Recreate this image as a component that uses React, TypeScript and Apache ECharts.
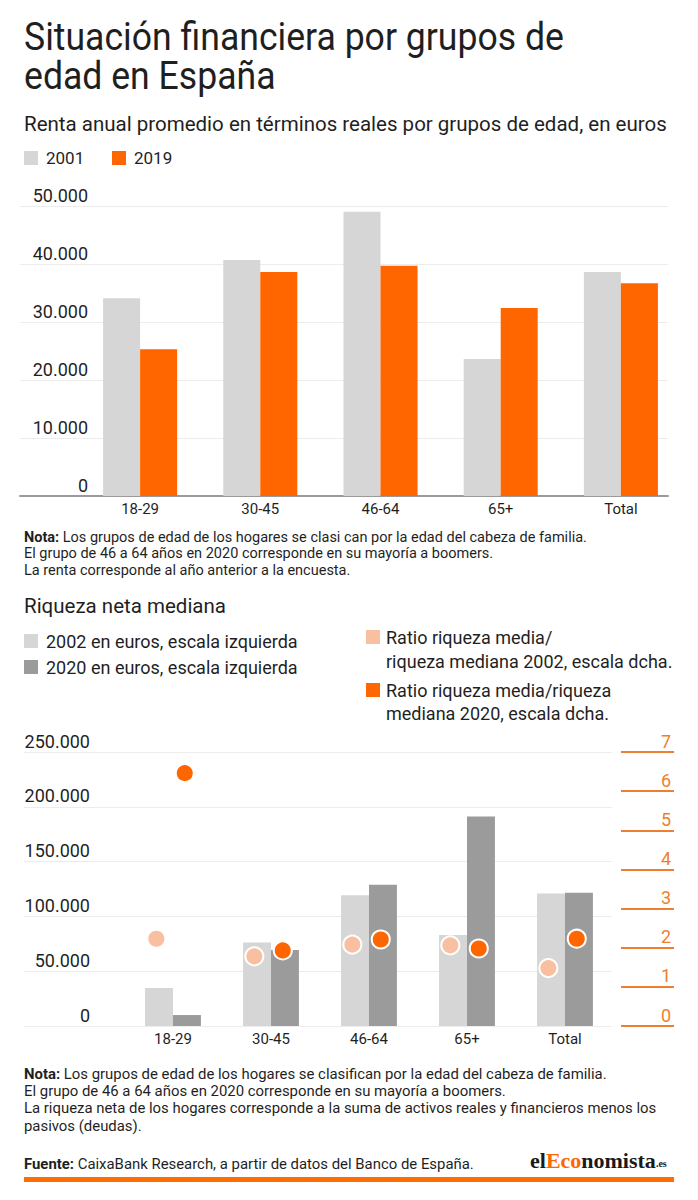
import React, { useEffect, useRef } from "react";
import * as echarts from "echarts";

// Age groups shared by both panels
const ageGroups = ["18-29", "30-45", "46-64", "65+", "Total"];

// Panel 1: average annual income (real terms, euros)
const income2001 = [34100, 40700, 49000, 23600, 38600];
const income2019 = [25300, 38600, 39700, 32400, 36700];

// Panel 2: median net wealth (euros, left scale)
const wealth2002 = [34700, 76100, 119300, 83100, 120900];
const wealth2020 = [10000, 69400, 128800, 191200, 121500];

// Panel 2: mean / median wealth ratio (right scale)
const ratio2002 = [2.23, 1.78, 2.08, 2.06, 1.48];
const ratio2020 = [6.46, 1.93, 2.21, 1.98, 2.23];

const FONT = "Roboto, 'Noto Sans', sans-serif";
const TEXT = "#1f1f1f";
const GRAY_LIGHT = "#d6d6d6";
const GRAY_DARK = "#9b9b9b";
const ORANGE = "#ff6600";
const ORANGE_PALE = "#f9bfa1";
const ORANGE_AXIS = "#ef7f2e";
const GRID_LINE = "#ececec";

const thousands = (v: number) =>
  String(v).replace(/\B(?=(\d{3})+(?!\d))/g, ".");

// Circle marker placed over one of the two bars of a category
const dotRenderer =
  (color: string, shift: number) => (_params: any, api: any) => {
    const p = api.coord([api.value(0), api.value(1)]);
    const band = api.size([1, 0])[0];
    return {
      type: "circle",
      shape: { cx: p[0] + band * shift, cy: p[1], r: 9 },
      style: { fill: color, stroke: "#ffffff", lineWidth: 2 },
      z2: 10,
    };
  };

const txt = (
  x: number,
  y: number,
  text: string,
  fontSize: number,
  extra: Record<string, any> = {},
  scaleX = 1
) => ({
  type: "text",
  x,
  y,
  scaleX,
  style: {
    text,
    fontSize,
    fontFamily: FONT,
    fill: TEXT,
    verticalAlign: "middle",
    ...extra,
  },
});

const square = (x: number, y: number, color: string) => ({
  type: "rect",
  shape: { x, y, width: 14, height: 14 },
  style: { fill: color },
});

const noteRich = (size: number, lh: number) => ({
  b: { fontWeight: "bold", fontSize: size, fontFamily: FONT, fill: TEXT, lineHeight: lh },
  t: { fontSize: size, fontFamily: FONT, fill: TEXT, lineHeight: lh },
});

export default function App() {
  const ref = useRef<HTMLDivElement>(null);

  useEffect(() => {
    if (!ref.current) return;
    const chart = echarts.init(ref.current, undefined, { renderer: "svg" });

    const leftLabel = (margin: number) => ({
      inside: true,
      align: "right",
      verticalAlign: "bottom",
      lineHeight: 22,
      margin,
      fontSize: 18,
      color: TEXT,
      fontFamily: FONT,
      formatter: (v: number) => thousands(v),
    });

    const catLabel = {
      fontSize: 15,
      color: TEXT,
      fontFamily: FONT,
      margin: 5,
    };

    const option: any = {
      animation: false,
      backgroundColor: "#ffffff",
      textStyle: { fontFamily: FONT },
      grid: [
        { left: 20, right: 30, top: 206, height: 290 },
        { left: 80, right: 17, top: 206, height: 290 },
        { left: 24, right: 86, top: 752, height: 274 },
        { left: 124, right: 84, top: 752, height: 274 },
      ],
      xAxis: [
        {
          gridIndex: 0,
          type: "value",
          min: 0,
          max: 1,
          axisLine: { show: true, onZero: false, lineStyle: { color: "#9a9a9a", width: 2 } },
          axisTick: { show: false },
          axisLabel: { show: false },
          splitLine: { show: false },
        },
        {
          gridIndex: 1,
          type: "category",
          data: ageGroups,
          axisLine: { show: false },
          axisTick: { show: false },
          axisLabel: catLabel,
        },
        { gridIndex: 2, type: "value", min: 0, max: 1, show: false },
        {
          gridIndex: 3,
          type: "category",
          data: ageGroups,
          axisLine: { show: false },
          axisTick: { show: false },
          axisLabel: catLabel,
        },
      ],
      yAxis: [
        {
          gridIndex: 0,
          type: "value",
          min: 0,
          max: 50000,
          interval: 10000,
          axisLine: { show: false },
          axisTick: { show: false },
          splitLine: { lineStyle: { color: GRID_LINE, width: 1 } },
          axisLabel: leftLabel(68),
        },
        { gridIndex: 1, type: "value", min: 0, max: 50000, show: false },
        {
          gridIndex: 2,
          type: "value",
          min: 0,
          max: 250000,
          interval: 50000,
          axisLine: { show: false },
          axisTick: { show: false },
          splitLine: { lineStyle: { color: GRID_LINE, width: 1 } },
          axisLabel: leftLabel(66),
        },
        { gridIndex: 3, type: "value", min: 0, max: 250000, show: false },
        {
          gridIndex: 3,
          type: "value",
          position: "right",
          offset: 7,
          min: 0,
          max: 7,
          interval: 1,
          axisLine: { show: false },
          axisTick: { show: true, length: 53, lineStyle: { color: ORANGE_AXIS, width: 2 } },
          splitLine: { show: false },
          axisLabel: {
            align: "right",
            verticalAlign: "bottom",
            lineHeight: 22,
            margin: 50,
            fontSize: 18,
            color: ORANGE_AXIS,
            fontFamily: FONT,
          },
        },
      ],
      series: [
        {
          name: "2001",
          type: "bar",
          xAxisIndex: 1,
          yAxisIndex: 1,
          data: income2001,
          barWidth: "30.8%",
          barGap: "0%",
          itemStyle: { color: GRAY_LIGHT },
        },
        {
          name: "2019",
          type: "bar",
          xAxisIndex: 1,
          yAxisIndex: 1,
          data: income2019,
          barWidth: "30.8%",
          barGap: "0%",
          itemStyle: { color: ORANGE },
        },
        {
          name: "2002 en euros, escala izquierda",
          type: "bar",
          xAxisIndex: 3,
          yAxisIndex: 3,
          data: wealth2002,
          barWidth: "28.5%",
          barGap: "0%",
          itemStyle: { color: GRAY_LIGHT },
        },
        {
          name: "2020 en euros, escala izquierda",
          type: "bar",
          xAxisIndex: 3,
          yAxisIndex: 3,
          data: wealth2020,
          barWidth: "28.5%",
          barGap: "0%",
          itemStyle: { color: GRAY_DARK },
        },
        {
          name: "Ratio riqueza media/riqueza mediana 2002, escala dcha.",
          type: "custom",
          xAxisIndex: 3,
          yAxisIndex: 4,
          z: 5,
          encode: { x: 0, y: 1 },
          data: ratio2002.map((v, i) => [i, v]),
          renderItem: dotRenderer(ORANGE_PALE, -0.17),
        },
        {
          name: "Ratio riqueza media/riqueza mediana 2020, escala dcha.",
          type: "custom",
          xAxisIndex: 3,
          yAxisIndex: 4,
          z: 6,
          encode: { x: 0, y: 1 },
          data: ratio2020.map((v, i) => [i, v]),
          renderItem: dotRenderer(ORANGE, 0.12),
        },
      ],
      graphic: [
        // Title
        txt(24, 37, "Situación financiera por grupos de", 38, {}, 0.937),
        txt(24, 76, "edad en España", 38, {}, 0.937),
        // Panel 1 heading and legend
        txt(24, 124, "Renta anual promedio en términos reales por grupos de edad, en euros", 20.5),
        square(24, 151, GRAY_LIGHT),
        txt(46, 158, "2001", 17),
        square(112, 151, ORANGE),
        txt(134, 158, "2019", 17),
        // Panel 1 notes
        {
          type: "text",
          x: 24,
          y: 529,
          style: {
            text:
              "{b|Nota:}{t| Los grupos de edad de los hogares se clasi can por la edad del cabeza de familia.}\n" +
              "{t|El grupo de 46 a 64 años en 2020 corresponde en su mayoría a boomers.}\n" +
              "{t|La renta corresponde al año anterior a la encuesta.}",
            rich: noteRich(14.5, 16.5),
            verticalAlign: "top",
          },
        },
        // Panel 2 heading and legend
        txt(24, 606, "Riqueza neta mediana", 20.5),
        square(24, 634, GRAY_LIGHT),
        txt(46, 641, "2002 en euros, escala izquierda", 18),
        square(24, 660, GRAY_DARK),
        txt(46, 667, "2020 en euros, escala izquierda", 18),
        square(366, 630, ORANGE_PALE),
        txt(386, 637, "Ratio riqueza media/", 18),
        txt(386, 661, "riqueza mediana 2002, escala dcha.", 18),
        square(366, 683, ORANGE),
        txt(386, 690, "Ratio riqueza media/riqueza", 18),
        txt(386, 713, "mediana 2020, escala dcha.", 18),
        // Panel 2 notes
        {
          type: "text",
          x: 24,
          y: 1065,
          style: {
            text:
              "{b|Nota:}{t| Los grupos de edad de los hogares se clasifican por la edad del cabeza de familia.}\n" +
              "{t|El grupo de 46 a 64 años en 2020 corresponde en su mayoría a boomers.}\n" +
              "{t|La riqueza neta de los hogares corresponde a la suma de activos reales y financieros menos los}\n" +
              "{t|pasivos (deudas).}",
            rich: noteRich(14.9, 17.3),
            verticalAlign: "top",
          },
        },
        // Source line
        {
          type: "text",
          x: 24,
          y: 1164,
          style: {
            text: "{b|Fuente:}{t| CaixaBank Research, a partir de datos del Banco de España.}",
            rich: noteRich(14.9, 18),
            verticalAlign: "middle",
          },
        },
        // Publisher mark
        {
          type: "text",
          x: 530,
          y: 1160,
          style: {
            text: "{k|el}{o|Eco}{k|nomista}{s|.es}",
            verticalAlign: "middle",
            rich: {
              k: { fontFamily: "'Liberation Serif', serif", fontWeight: "bold", fontSize: 22, fill: "#1a1a1a" },
              o: { fontFamily: "'Liberation Serif', serif", fontWeight: "bold", fontSize: 22, fill: ORANGE },
              s: { fontFamily: "'Liberation Serif', serif", fontWeight: "bold", fontSize: 10, fill: "#1a1a1a", padding: [6, 0, 0, 0] },
            },
          },
        },
        {
          type: "rect",
          shape: { x: 24, y: 1177, width: 650, height: 5 },
          style: { fill: "#ff6d00" },
        },
      ],
    };

    chart.setOption(option);
    return () => chart.dispose();
  }, []);

  return (
    <div
      ref={ref}
      style={{
        position: "absolute",
        left: 0,
        top: 0,
        width: 698,
        height: 1200,
        background: "#ffffff",
      }}
    />
  );
}
